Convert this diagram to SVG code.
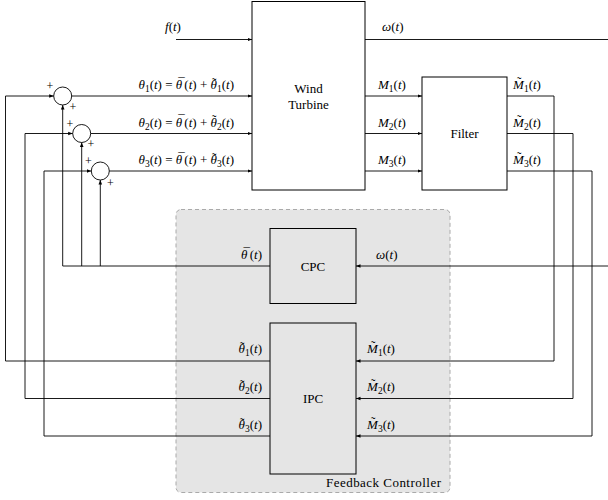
<svg xmlns="http://www.w3.org/2000/svg" width="608" height="500" viewBox="0 0 608 500">
<style>
.box{fill:none;stroke:#000;stroke-width:1}
.c{fill:none;stroke:#000;stroke-width:0.9}
.ca{fill:none;stroke:#000;stroke-width:0.9;marker-end:url(#a)}
text{font-family:"Liberation Serif","DejaVu Serif",serif;font-size:13px;fill:#000}
.i{font-style:italic}
.s{font-size:9.5px}
.p{font-size:12px}
</style>
<defs>
<marker id="a" viewBox="0 0 6 6" refX="6" refY="3" markerWidth="4.5" markerHeight="4.5" orient="auto" markerUnits="userSpaceOnUse"><path d="M0,0.6 L6,3 L0,5.4 z" fill="#000"/></marker>
</defs>
<g id="feedback-controller">
<rect x="176" y="209.5" width="274" height="283" rx="5" fill="#e5e5e5" stroke="#aaa" stroke-width="1" stroke-dasharray="4,3"/>
<text x="441" y="487" text-anchor="end" textLength="115" lengthAdjust="spacing">Feedback Controller</text>
</g>
<g id="wind-turbine">
<rect class="box" x="252" y="1.5" width="113" height="188.5"/>
<text x="308.5" y="93" text-anchor="middle">Wind</text>
<text x="308.5" y="109" text-anchor="middle">Turbine</text>
</g>
<g id="filter">
<rect class="box" x="422" y="77" width="85" height="113"/>
<text x="464.5" y="138" text-anchor="middle">Filter</text>
</g>
<g id="cpc">
<rect class="box" x="270" y="228.5" width="86" height="75"/>
<text x="313" y="270.5" text-anchor="middle">CPC</text>
</g>
<g id="ipc">
<rect class="box" x="270" y="323" width="86" height="151"/>
<text x="313" y="402.5" text-anchor="middle">IPC</text>
</g>
<g id="sum1">
<circle class="c" cx="62.7" cy="96" r="9"/>
<text class="p" x="50" y="90" text-anchor="middle">+</text>
<text class="p" x="73" y="111" text-anchor="middle">+</text>
</g>
<g id="sum2">
<circle class="c" cx="81.7" cy="133.5" r="9"/>
<text class="p" x="70" y="127.5" text-anchor="middle">+</text>
<text class="p" x="91" y="148" text-anchor="middle">+</text>
</g>
<g id="sum3">
<circle class="c" cx="100.3" cy="171" r="9"/>
<text class="p" x="88.5" y="165" text-anchor="middle">+</text>
<text class="p" x="110.5" y="187" text-anchor="middle">+</text>
</g>
<g id="connectors">
<path class="ca" d="M176,39.5 H252"/>
<path class="c" d="M365,39.5 H608"/>
<path class="ca" d="M71.7,96 H252"/>
<path class="ca" d="M90.7,133.5 H252"/>
<path class="ca" d="M109.3,171 H252"/>
<path class="ca" d="M365,96 H422"/>
<path class="ca" d="M365,133.5 H422"/>
<path class="ca" d="M365,171 H422"/>
<path class="ca" d="M507,96 H554 V361 H356"/>
<path class="ca" d="M507,133.5 H573 V398.5 H356"/>
<path class="ca" d="M507,171 H592 V436 H356"/>
<path class="ca" d="M608,266 H356"/>
<path class="ca" d="M270,266 H62.7 V105"/>
<path class="ca" d="M81.7,266 V142.5"/>
<path class="ca" d="M100.3,266 V180"/>
<path class="ca" d="M270,361 H5.5 V96 H53.7"/>
<path class="ca" d="M270,398.5 H25 V133.5 H72.7"/>
<path class="ca" d="M270,436 H44 V171 H91.3"/>
</g>
<g id="labels">
<text x="165" y="31"><tspan class="i">f</tspan>(<tspan class="i">t</tspan>)</text>
<text x="382" y="31"><tspan class="i">ω</tspan>(<tspan class="i">t</tspan>)</text>
<text x="234" y="89" text-anchor="end"><tspan class="i">θ</tspan><tspan class="s" dy="3">1</tspan><tspan dy="-3">(</tspan><tspan class="i">t</tspan>) = <tspan class="i">θ</tspan><tspan dx="-4" dy="-2.5">¯</tspan><tspan dx="-0.3" dy="2.5">(</tspan><tspan class="i">t</tspan>) + <tspan class="i">θ</tspan><tspan dx="-5" dy="-2.5">˜</tspan><tspan class="s" dx="0.7" dy="5.5">1</tspan><tspan dy="-3">(</tspan><tspan class="i">t</tspan>)</text>
<text x="234" y="126.5" text-anchor="end"><tspan class="i">θ</tspan><tspan class="s" dy="3">2</tspan><tspan dy="-3">(</tspan><tspan class="i">t</tspan>) = <tspan class="i">θ</tspan><tspan dx="-4" dy="-2.5">¯</tspan><tspan dx="-0.3" dy="2.5">(</tspan><tspan class="i">t</tspan>) + <tspan class="i">θ</tspan><tspan dx="-5" dy="-2.5">˜</tspan><tspan class="s" dx="0.7" dy="5.5">2</tspan><tspan dy="-3">(</tspan><tspan class="i">t</tspan>)</text>
<text x="234" y="164" text-anchor="end"><tspan class="i">θ</tspan><tspan class="s" dy="3">3</tspan><tspan dy="-3">(</tspan><tspan class="i">t</tspan>) = <tspan class="i">θ</tspan><tspan dx="-4" dy="-2.5">¯</tspan><tspan dx="-0.3" dy="2.5">(</tspan><tspan class="i">t</tspan>) + <tspan class="i">θ</tspan><tspan dx="-5" dy="-2.5">˜</tspan><tspan class="s" dx="0.7" dy="5.5">3</tspan><tspan dy="-3">(</tspan><tspan class="i">t</tspan>)</text>
<text x="378" y="89"><tspan class="i">M</tspan><tspan class="s" dy="3">1</tspan><tspan dy="-3">(</tspan><tspan class="i">t</tspan>)</text>
<text x="378" y="126.5"><tspan class="i">M</tspan><tspan class="s" dy="3">2</tspan><tspan dy="-3">(</tspan><tspan class="i">t</tspan>)</text>
<text x="378" y="164"><tspan class="i">M</tspan><tspan class="s" dy="3">3</tspan><tspan dy="-3">(</tspan><tspan class="i">t</tspan>)</text>
<text x="513" y="89"><tspan class="i">M</tspan><tspan dx="-6.8" dy="-3">˜</tspan><tspan class="s" dx="2.5" dy="6">1</tspan><tspan dy="-3">(</tspan><tspan class="i">t</tspan>)</text>
<text x="513" y="126.5"><tspan class="i">M</tspan><tspan dx="-6.8" dy="-3">˜</tspan><tspan class="s" dx="2.5" dy="6">2</tspan><tspan dy="-3">(</tspan><tspan class="i">t</tspan>)</text>
<text x="513" y="164"><tspan class="i">M</tspan><tspan dx="-6.8" dy="-3">˜</tspan><tspan class="s" dx="2.5" dy="6">3</tspan><tspan dy="-3">(</tspan><tspan class="i">t</tspan>)</text>
<text x="262" y="259" text-anchor="end"><tspan class="i">θ</tspan><tspan dx="-4" dy="-2.5">¯</tspan><tspan dx="-0.3" dy="2.5">(</tspan><tspan class="i">t</tspan>)</text>
<text x="376" y="259"><tspan class="i">ω</tspan>(<tspan class="i">t</tspan>)</text>
<text x="262" y="353" text-anchor="end"><tspan class="i">θ</tspan><tspan dx="-5" dy="-2.5">˜</tspan><tspan class="s" dx="0.7" dy="5.5">1</tspan><tspan dy="-3">(</tspan><tspan class="i">t</tspan>)</text>
<text x="262" y="391" text-anchor="end"><tspan class="i">θ</tspan><tspan dx="-5" dy="-2.5">˜</tspan><tspan class="s" dx="0.7" dy="5.5">2</tspan><tspan dy="-3">(</tspan><tspan class="i">t</tspan>)</text>
<text x="262" y="429" text-anchor="end"><tspan class="i">θ</tspan><tspan dx="-5" dy="-2.5">˜</tspan><tspan class="s" dx="0.7" dy="5.5">3</tspan><tspan dy="-3">(</tspan><tspan class="i">t</tspan>)</text>
<text x="367" y="353"><tspan class="i">M</tspan><tspan dx="-6.8" dy="-3">˜</tspan><tspan class="s" dx="2.5" dy="6">1</tspan><tspan dy="-3">(</tspan><tspan class="i">t</tspan>)</text>
<text x="367" y="391"><tspan class="i">M</tspan><tspan dx="-6.8" dy="-3">˜</tspan><tspan class="s" dx="2.5" dy="6">2</tspan><tspan dy="-3">(</tspan><tspan class="i">t</tspan>)</text>
<text x="367" y="429"><tspan class="i">M</tspan><tspan dx="-6.8" dy="-3">˜</tspan><tspan class="s" dx="2.5" dy="6">3</tspan><tspan dy="-3">(</tspan><tspan class="i">t</tspan>)</text>
</g>
</svg>
